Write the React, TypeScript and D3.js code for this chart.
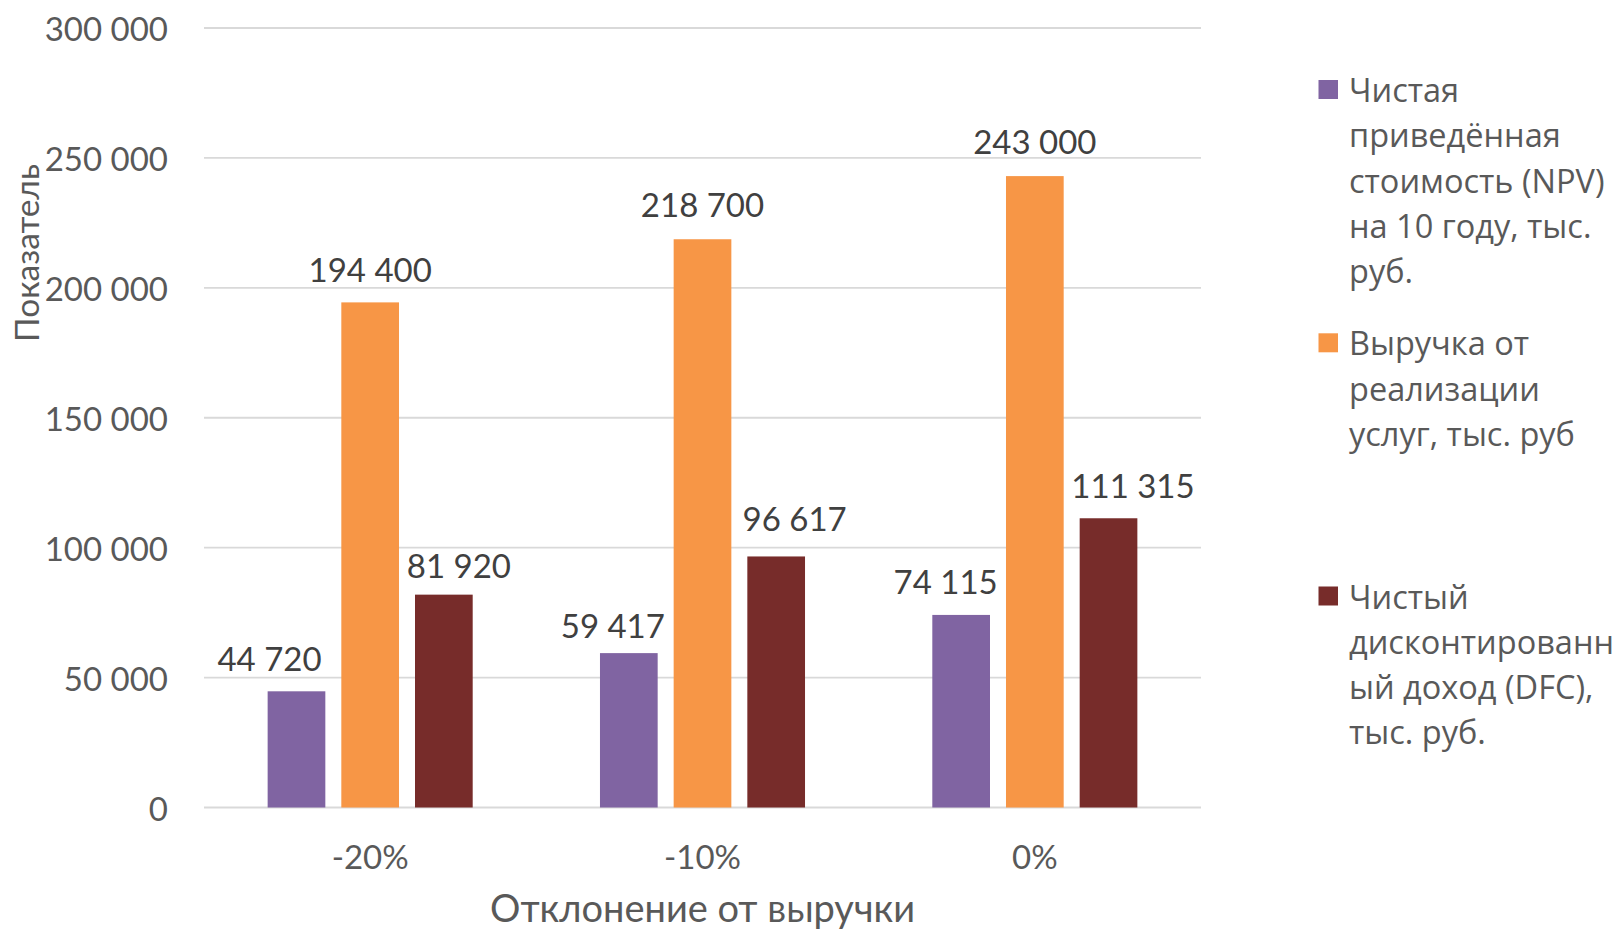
import React from "react";
import * as d3 from "d3";

// Sensitivity of project indicators to revenue deviation
const categories = ["-20%", "-10%", "0%"];
const seriesKeys = ["npv", "revenue", "dfc"];
const npvValues = [44720, 59417, 74115];
const revenueValues = [194400, 218700, 243000];
const dfcValues = [81920, 96617, 111315];
const yTicks = [0, 50000, 100000, 150000, 200000, 250000, 300000];
const legendLines = [
  ["Чистая", "приведённая", "стоимость (NPV)", "на 10 году, тыс.", "руб."],
  ["Выручка от", "реализации", "услуг, тыс. руб"],
  ["Чистый", "дисконтированн", "ый доход (DFC),", "тыс. руб."],
];
const colors = ["#8064A2", "#F79646", "#772C2A"];

// Data-label nudges (px) so neighbouring labels do not collide
const labelDx = [
  [-27, -16, -15.5],
  [0, 0, 0],
  [15, 18.5, 24.5],
];
const labelDy = [
  [33.5, 28, 33.5],
  [33, 35, 35],
  [30, 38, 33],
];

const W = 1614;
const H = 932;
const plot = { left: 204, right: 1201, top: 28, bottom: 807.5 };

const locale = d3.formatLocale({
  decimal: ",",
  thousands: " ",
  grouping: [3],
  currency: ["", ""],
});
const fmt = locale.format(",d");

export default function App() {
  const seriesValues = [npvValues, revenueValues, dfcValues];

  const x0 = d3
    .scaleBand<string>()
    .domain(categories)
    .range([plot.left, plot.right])
    .paddingInner(0)
    .paddingOuter(0);
  const band = x0.bandwidth();
  const groupPad = band * 0.1915;
  const x1 = d3
    .scaleBand<string>()
    .domain(seriesKeys)
    .range([groupPad, band - groupPad])
    .paddingInner(0.217)
    .paddingOuter(0);
  const y = d3.scaleLinear().domain([0, 300000]).range([plot.bottom, plot.top]);

  const tickFont = "Lato, 'Open Sans', sans-serif";
  const legendFont = "'Open Sans', sans-serif";

  const legendTops = [89.5, 342.8, 596];
  const lineStep = 45.3;

  return (
    <svg
      width={W}
      height={H}
      style={{ position: "absolute", left: 0, top: 0, background: "#fff" }}
    >
      {/* gridlines */}
      {yTicks.map((t) => (
        <line
          key={"g" + t}
          x1={plot.left}
          x2={plot.right}
          y1={y(t)}
          y2={y(t)}
          stroke="#D9D9D9"
          strokeWidth={1.8}
        />
      ))}
      {/* y tick labels */}
      {yTicks.map((t) => (
        <text
          key={"t" + t}
          x={168}
          y={y(t)}
          textAnchor="end"
          dominantBaseline="central"
          fontFamily={tickFont}
          fontSize={33}
          fill="#595959"
        >
          {fmt(t)}
        </text>
      ))}
      {/* bars */}
      {categories.map((c, ci) => (
        <g key={c} transform={`translate(${x0(c)},0)`}>
          {seriesKeys.map((k, si) => {
            const v = seriesValues[si][ci];
            const bx = x1(k)!;
            const bw = x1.bandwidth();
            return (
              <g key={k}>
                <rect
                  x={bx}
                  y={y(v)}
                  width={bw}
                  height={y(0) - y(v)}
                  fill={colors[si]}
                />
                <text
                  x={bx + bw / 2 + labelDx[si][ci]}
                  y={y(v) - labelDy[si][ci]}
                  textAnchor="middle"
                  dominantBaseline="central"
                  fontFamily={tickFont}
                  fontSize={33}
                  fill="#404040"
                >
                  {fmt(v)}
                </text>
              </g>
            );
          })}
        </g>
      ))}
      {/* category labels */}
      {categories.map((c) => (
        <text
          key={"c" + c}
          x={x0(c)! + band / 2}
          y={856}
          textAnchor="middle"
          dominantBaseline="central"
          fontFamily={tickFont}
          fontSize={33}
          fill="#595959"
        >
          {c}
        </text>
      ))}
      {/* axis titles */}
      <text
        x={(plot.left + plot.right) / 2}
        y={907}
        textAnchor="middle"
        dominantBaseline="central"
        fontFamily={tickFont}
        fontSize={38}
        fill="#595959"
      >
        Отклонение от выручки
      </text>
      <text
        transform={`translate(26,253) rotate(-90)`}
        textAnchor="middle"
        dominantBaseline="central"
        fontFamily={tickFont}
        fontSize={33.5}
        fill="#595959"
      >
        Показатель
      </text>
      {/* legend */}
      {legendLines.map((lines, i) => (
        <g key={"l" + i}>
          <rect
            x={1318.5}
            y={legendTops[i] - 9.5}
            width={19.5}
            height={19}
            fill={colors[i]}
          />
          {lines.map((ln, j) => (
            <text
              key={j}
              x={1349}
              y={legendTops[i] + j * lineStep}
              dominantBaseline="central"
              fontFamily={legendFont}
              fontSize={32.5}
              fill="#595959"
            >
              {ln}
            </text>
          ))}
        </g>
      ))}
    </svg>
  );
}
